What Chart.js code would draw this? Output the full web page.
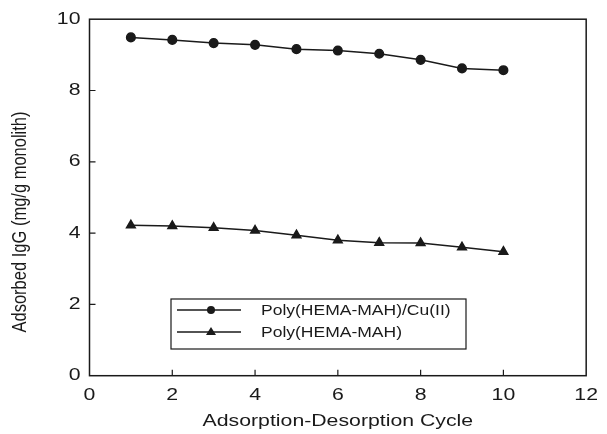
<!DOCTYPE html>
<html>
<head>
<meta charset="utf-8">
<script src="https://cdn.jsdelivr.net/npm/chart.js@4"></script>
<style>
  html, body { margin: 0; padding: 0; background: #fff; }
</style>
</head>
<body>
<canvas id="chart" width="607" height="434"></canvas>
<script>
const cycles = [1, 2, 3, 4, 5, 6, 7, 8, 9, 10];
const cuValues = [9.49, 9.42, 9.33, 9.28, 9.16, 9.12, 9.03, 8.86, 8.62, 8.57];
const plainValues = [4.22, 4.20, 4.15, 4.07, 3.94, 3.80, 3.73, 3.72, 3.60, 3.48];
const seriesNames = ['Poly(HEMA-MAH)/Cu(II)', 'Poly(HEMA-MAH)'];
const xTitle = 'Adsorption-Desorption Cycle';
const yTitle = 'Adsorbed IgG (mg/g monolith)';

const FONT = 'Liberation Sans, Arial, sans-serif';
const INK = '#1a1a1a';
const WIDEN = 1.25;  // lettering is set wide on the page

const canvas = document.getElementById('chart');
const c2d = canvas.getContext('2d');

// widen all text along the screen x direction, keeping measurements in step
const origFill = c2d.fillText.bind(c2d);
const origMeasure = c2d.measureText.bind(c2d);
c2d.fillText = function (text, x, y, maxWidth) {
    const m = c2d.getTransform();
    const p = m.transformPoint(new DOMPoint(x, y));
    const s = new DOMMatrix().translate(p.x, p.y).scale(WIDEN, 1).translate(-p.x, -p.y).multiply(m);
    c2d.setTransform(s);
    if (maxWidth === undefined) origFill(text, x, y);
    else origFill(text, x, y, maxWidth / WIDEN);
    c2d.setTransform(m);
};
c2d.measureText = function (text) {
    const r = origMeasure(text);
    return { width: r.width * WIDEN, actualBoundingBoxAscent: r.actualBoundingBoxAscent, actualBoundingBoxDescent: r.actualBoundingBoxDescent };
};

// frame, inward tick marks, y title and the boxed legend inside the plot
const framePlugin = {
    id: 'frame',
    afterDraw(chart) {
        const ctx = chart.ctx;
        const a = chart.chartArea;
        const xs = chart.scales.x, ys = chart.scales.y;
        ctx.save();
        ctx.strokeStyle = INK;
        ctx.lineWidth = 1.5;
        ctx.strokeRect(a.left, a.top, a.right - a.left, a.bottom - a.top);

        ctx.lineWidth = 1.2;
        ctx.beginPath();
        xs.ticks.forEach(t => {
            const px = xs.getPixelForValue(t.value);
            if (t.value > xs.min && t.value < xs.max) {
                ctx.moveTo(px, a.bottom);
                ctx.lineTo(px, a.bottom - 6);
            }
        });
        ys.ticks.forEach(t => {
            const py = ys.getPixelForValue(t.value);
            if (t.value > ys.min && t.value < ys.max) {
                ctx.moveTo(a.left, py);
                ctx.lineTo(a.left + 6, py);
            }
        });
        ctx.stroke();

        // y axis title, sitting a little below the middle of the axis
        ctx.fillStyle = INK;
        ctx.font = '16.5px ' + FONT;
        ctx.textAlign = 'center';
        ctx.textBaseline = 'middle';
        ctx.save();
        ctx.translate(20, 222);
        ctx.rotate(-Math.PI / 2);
        ctx.fillText(yTitle, 0, 0);
        ctx.restore();

        // legend box
        const bx = 171, by = 299, bw = 295, bh = 50;
        ctx.lineWidth = 1.2;
        ctx.strokeRect(bx, by, bw, bh);
        ctx.font = '14px ' + FONT;
        ctx.textAlign = 'left';
        chart.data.datasets.forEach((ds, i) => {
            const rowY = by + 11 + i * 22;
            ctx.lineWidth = 1.3;
            ctx.beginPath();
            ctx.moveTo(bx + 6, rowY);
            ctx.lineTo(bx + 70, rowY);
            ctx.stroke();
            const mx = bx + 40;
            ctx.beginPath();
            if (ds.pointStyle === 'triangle') {
                ctx.moveTo(mx, rowY - 5);
                ctx.lineTo(mx + 5, rowY + 3);
                ctx.lineTo(mx - 5, rowY + 3);
                ctx.closePath();
            } else {
                ctx.arc(mx, rowY, 4, 0, Math.PI * 2);
            }
            ctx.fill();
            ctx.fillText(ds.label, bx + 90, rowY + 1);
        });
        ctx.restore();
    }
};

new Chart(canvas, {
    type: 'line',
    data: {
        labels: cycles,
        datasets: [{
            label: seriesNames[0],
            data: cycles.map((c, i) => ({ x: c, y: cuValues[i] })),
            borderColor: INK,
            backgroundColor: INK,
            borderWidth: 1.5,
            pointStyle: 'circle',
            pointRadius: 4.3,
            tension: 0
        }, {
            label: seriesNames[1],
            data: cycles.map((c, i) => ({ x: c, y: plainValues[i] })),
            borderColor: INK,
            backgroundColor: INK,
            borderWidth: 1.5,
            pointStyle: 'triangle',
            pointRadius: 5,
            tension: 0
        }]
    },
    options: {
        responsive: false,
        animation: false,
        layout: { padding: { top: 15, right: 12.5, left: 0, bottom: 0 } },
        plugins: {
            legend: { display: false },
            tooltip: { enabled: false }
        },
        scales: {
            x: {
                type: 'linear',
                min: 0,
                max: 12,
                afterFit(scale) { scale.height = 58.3; },
                ticks: { stepSize: 2, color: INK, padding: 9, font: { family: FONT, size: 17 } },
                grid: { display: false, drawTicks: false },
                border: { display: false },
                title: {
                    display: true,
                    text: xTitle,
                    color: INK,
                    font: { family: FONT, size: 17 },
                    padding: { top: 0, bottom: 2 }
                }
            },
            y: {
                min: 0,
                max: 10,
                afterFit(scale) { scale.width = 89.5; },
                ticks: { stepSize: 2, color: INK, padding: 9, font: { family: FONT, size: 17 } },
                grid: { display: false, drawTicks: false },
                border: { display: false }
            }
        }
    },
    plugins: [framePlugin]
});
</script>
</body>
</html>
